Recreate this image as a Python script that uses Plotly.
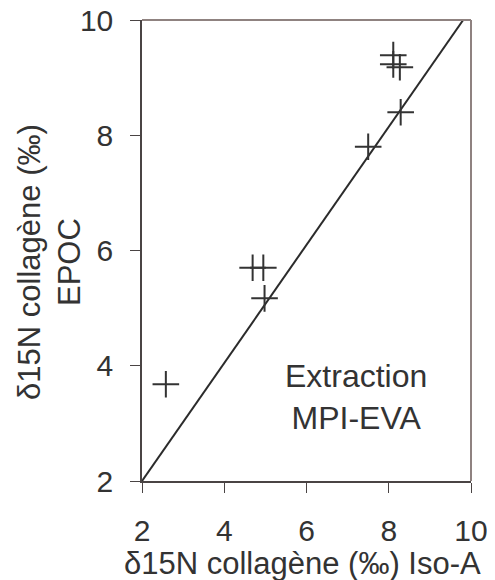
import plotly.graph_objects as go

# Data
iso_a = [8.11, 8.11, 8.27, 8.29, 7.50, 4.69, 4.95, 4.98, 2.58]
epoc = [9.39, 9.23, 9.18, 8.40, 7.80, 5.70, 5.70, 5.17, 3.68]
line_x = [2.0, 9.81]
line_y = [2.0, 10.0]
tick_vals = [2, 4, 6, 8, 10]

FONT = "Liberation Sans, Arial, sans-serif"
TXT = "#333333"

fig = go.Figure()
fig.add_trace(go.Scatter(x=line_x, y=line_y, mode="lines",
                         line=dict(color="#2b2b2b", width=2), hoverinfo="skip"))
fig.add_trace(go.Scatter(x=iso_a, y=epoc, mode="markers",
                         marker=dict(symbol="cross-thin", size=19,
                                     line=dict(color="#333333", width=2))))

fig.update_layout(
    width=487, height=572,
    margin=dict(l=134, r=24, t=12, b=99),
    paper_bgcolor="white", plot_bgcolor="white",
    showlegend=False,
    font=dict(family=FONT, color=TXT, size=30),
)
fig.update_xaxes(range=[2, 10], tickvals=tick_vals, showgrid=False, zeroline=False,
                 automargin=False, ticklabeloverflow="allow",
                 showline=True, linecolor="#4a4444", linewidth=1.5,
                 ticks="outside", ticklen=10, tickcolor="#4a4444",
                 ticklabelstandoff=12, tickfont=dict(size=30, color=TXT))
fig.update_yaxes(range=[2, 10], tickvals=tick_vals, showgrid=False, zeroline=False,
                 automargin=False, ticklabeloverflow="allow",
                 showline=True, linecolor="#4a4444", linewidth=1.5,
                 ticks="outside", ticklen=10, tickcolor="#4a4444",
                 ticklabelstandoff=11, tickfont=dict(size=30, color=TXT))

# top and right border
fig.add_shape(type="line", xref="x domain", yref="y domain", x0=0, x1=1, y0=1, y1=1,
              line=dict(color="#8f8280", width=2))
fig.add_shape(type="line", xref="x domain", yref="y domain", x0=1, x1=1, y0=0, y1=1,
              line=dict(color="#8f8280", width=2))

fig.add_annotation(text="δ15N collagène (‰) Iso-A", xref="paper", yref="paper",
                   x=0.487, y=-0.178, xanchor="center", yanchor="middle",
                   showarrow=False, font=dict(size=31, color=TXT))
fig.add_annotation(text="δ15N collagène (‰)<br>EPOC", xref="paper", yref="paper",
                   x=-0.283, y=0.475, xanchor="center", yanchor="middle",
                   textangle=-90, showarrow=False, font=dict(size=31, color=TXT))
fig.add_annotation(text="Extraction<br>MPI-EVA", xref="x", yref="y",
                   x=7.2, y=3.45, xanchor="center", yanchor="middle",
                   showarrow=False, font=dict(size=32, color=TXT))

fig.write_html("out.html")
